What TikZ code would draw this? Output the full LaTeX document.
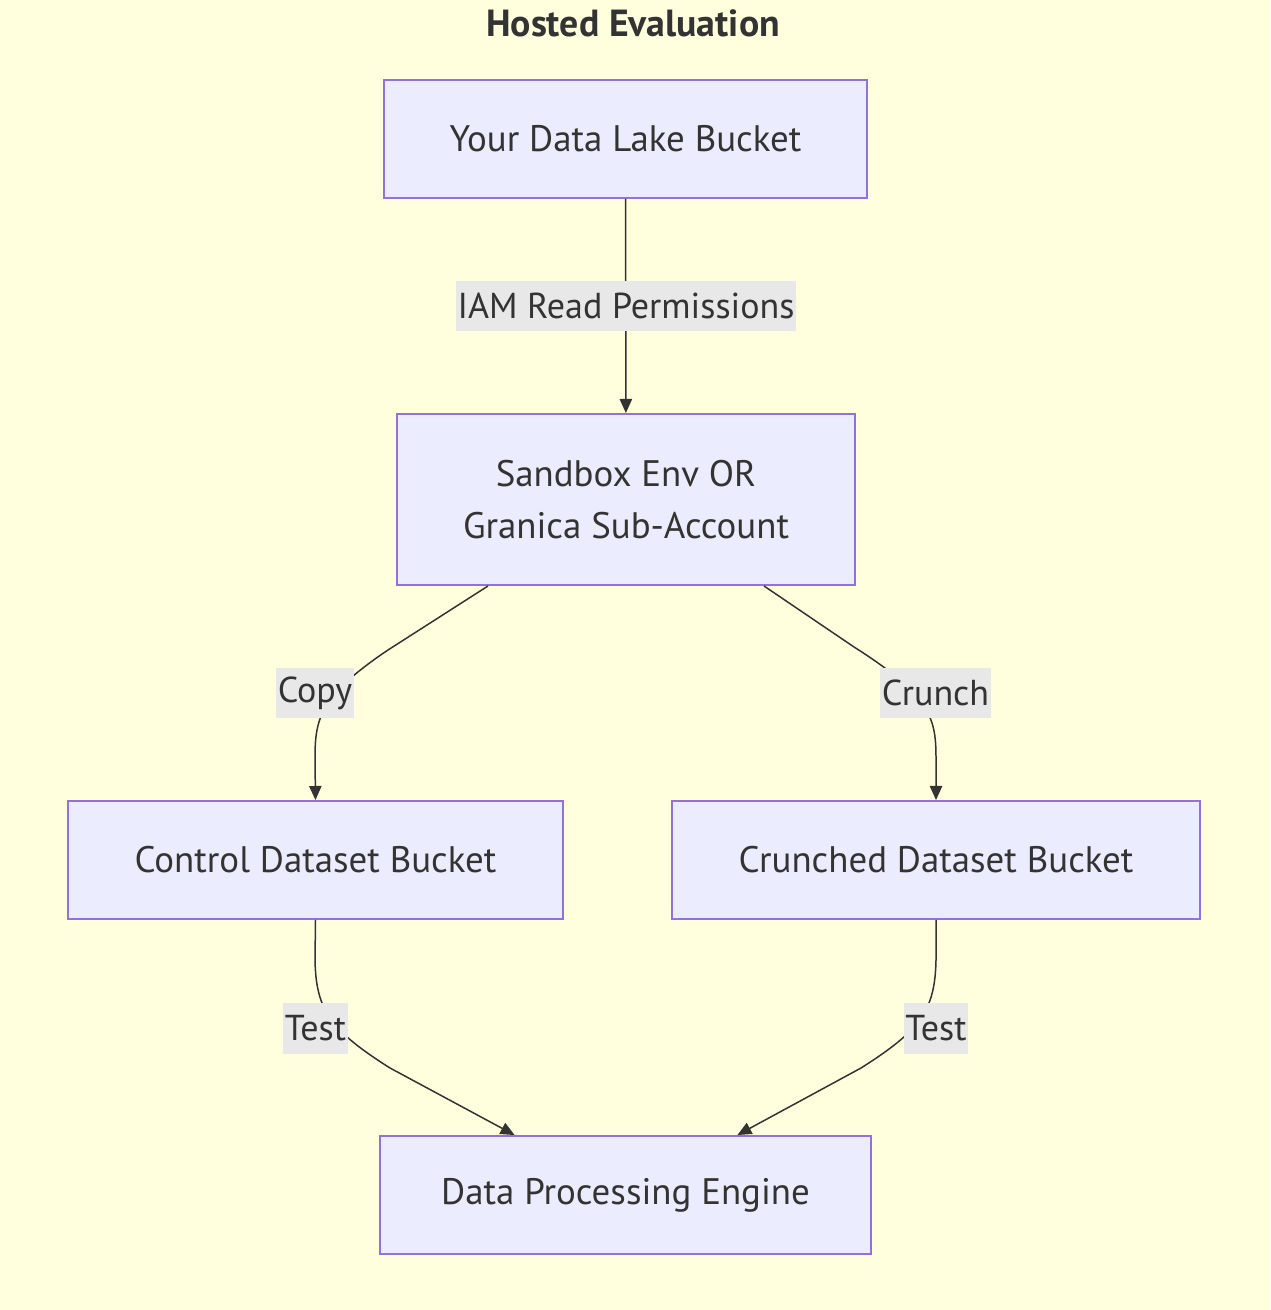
\documentclass[tikz,border=0pt]{standalone}
\usepackage{fontspec}
\setmainfont{PT Sans}
\usetikzlibrary{arrows.meta,calc,positioning}
\definecolor{bgyellow}{HTML}{FFFFDE}
\definecolor{boxfill}{HTML}{ECECFF}
\definecolor{boxline}{HTML}{9370DB}
\definecolor{lblfill}{HTML}{E8E8E8}
\definecolor{ink}{HTML}{333333}
\tikzset{
  box/.style={draw=boxline, fill=boxfill, line width=1.1pt, inner sep=0pt,
    text=ink, align=center, font=\fontsize{21}{30}\selectfont},
  lbl/.style={fill=lblfill, inner xsep=1pt, inner ysep=0pt, minimum height=1.02cm,
    text=ink, font=\fontsize{20.5}{30}\selectfont},
  edge/.style={draw=ink, line width=0.85pt, -{Triangle[length=8pt,width=7pt]}},
}
\begin{document}
\begin{tikzpicture}[x=0.02cm,y=-0.02cm]
  \fill[bgyellow] (0,0) rectangle (1270,1310);
  \useasboundingbox (0,0) rectangle (1270,1310);
  \node (title) [text=ink, font=\fontsize{21.5}{24}\selectfont\bfseries] at (633,23) {Hosted Evaluation};
  % boxes
  \node (lake) [box, minimum width=9.66cm, minimum height=2.36cm] at (625.5,139) {Your Data Lake Bucket};
  \node (sandbox) [box, minimum width=9.16cm, minimum height=3.42cm] at (626,499.5) {Sandbox Env OR\\Granica Sub-Account};
  \node (control) [box, minimum width=9.9cm, minimum height=2.36cm] at (315.5,860) {Control Dataset Bucket};
  \node (crunched) [box, minimum width=10.56cm, minimum height=2.36cm] at (936,860) {Crunched Dataset Bucket};
  \node (engine) [box, minimum width=9.82cm, minimum height=2.36cm] at (625.5,1195) {Data Processing Engine};
  % edges
  \draw[edge] (lake) -- (sandbox);
  \coordinate (sbL) at ($(sandbox.south west)!.2!(sandbox.south east)$);
  \coordinate (sbR) at ($(sandbox.south west)!.8!(sandbox.south east)$);
  \coordinate (enL) at ($(engine.north west)!.275!(engine.north east)$);
  \coordinate (enR) at ($(engine.north west)!.727!(engine.north east)$);
  \draw[edge] (sbL) -- (388,650) .. controls (318,697) and (315,720) .. (315,760) -- (control.north);
  \draw[edge] (sbR) -- (854,647) .. controls (933,697) and (936,720) .. (936,760) -- (crunched.north);
  \draw[edge] (control.south) -- (315,960) .. controls (316,1010) and (330,1030) .. (390,1068) -- (enL);
  \draw[edge] (crunched.south) -- (936,960) .. controls (935,1010) and (921,1030) .. (861,1068) -- (enR);
  % edge labels
  \node (iam) [lbl] at (626,306) {IAM Read Permissions};
  \node (copy) [lbl] at (315,693) {Copy};
  \node (crunch) [lbl] at (935.5,693) {Crunch};
  \node (testL) [lbl] at (315.5,1028) {Test};
  \node (testR) [lbl] at (936,1028) {Test};
\end{tikzpicture}
\end{document}
